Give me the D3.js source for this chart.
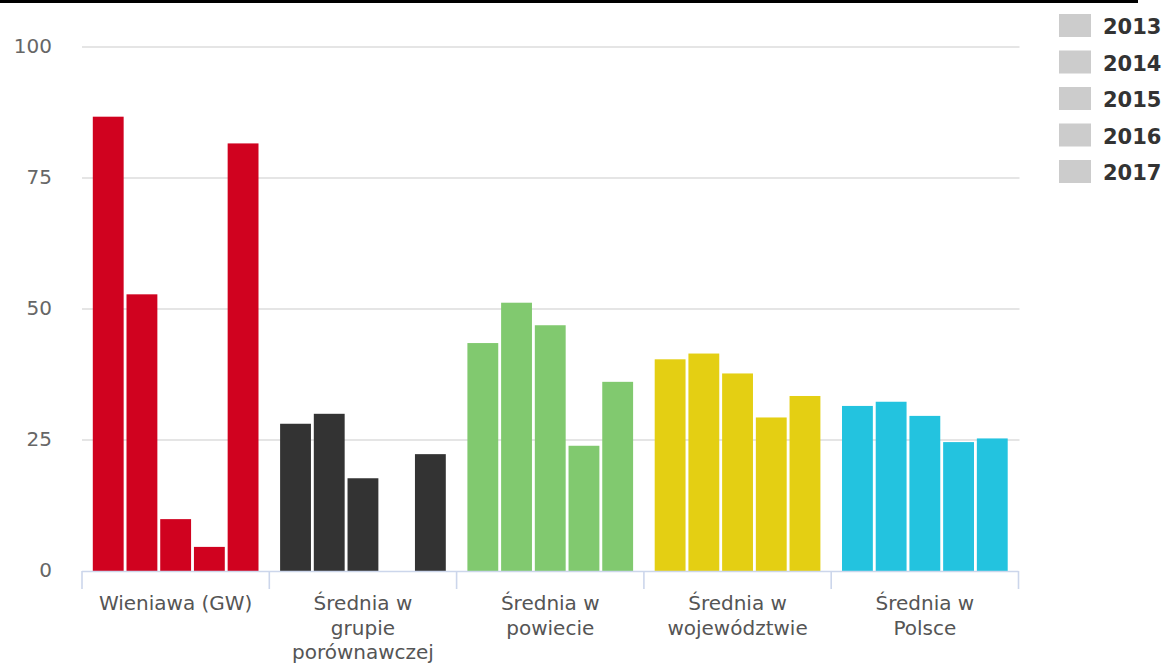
<!DOCTYPE html>
<html>
<head>
<meta charset="utf-8">
<script src="https://cdn.jsdelivr.net/npm/d3@7"></script>
<style>
  html, body { margin: 0; padding: 0; background: #fff; }
  svg { display: block; font-family: "DejaVu Sans", sans-serif; }
</style>
</head>
<body>
<svg id="chart" width="1168" height="668"></svg>
<script>
// ---- data ----
const categories = ["Wieniawa (GW)", "Średnia w grupie porównawczej", "Średnia w powiecie", "Średnia w województwie", "Średnia w Polsce"];
const categoryLabelLines = [
  ["Wieniawa (GW)"],
  ["Średnia w", "grupie", "porównawczej"],
  ["Średnia w", "powiecie"],
  ["Średnia w", "województwie"],
  ["Średnia w", "Polsce"]
];
const years = ["2013", "2014", "2015", "2016", "2017"];
const values2013 = [86.7, 28.1, 43.5, 40.4, 31.5];
const values2014 = [52.8, 30.0, 51.2, 41.5, 32.3];
const values2015 = [9.9, 17.7, 46.9, 37.7, 29.6];
const values2016 = [4.6, null, 23.9, 29.3, 24.6];
const values2017 = [81.6, 22.3, 36.1, 33.4, 25.3];
const categoryColors = ["#d0021f", "#333333", "#81c96f", "#e4cf13", "#23c3df"];
const yTicks = [0, 25, 50, 75, 100];

const seriesValues = [values2013, values2014, values2015, values2016, values2017];

// ---- layout ----
const svg = d3.select("#chart");
const plotLeft = 82, plotRight = 1018.5, plotTop = 47, plotBottom = 571;

// top black bar
svg.append("rect").attr("x", 0).attr("y", 0).attr("width", 1138).attr("height", 3).attr("fill", "#000");

const y = d3.scaleLinear().domain([0, 100]).range([plotBottom, plotTop]);
const x0 = d3.scaleBand().domain(categories).range([plotLeft, plotRight]).padding(0);
const groupPad = 10.8;
const x1 = d3.scaleBand().domain(years)
  .range([groupPad, x0.bandwidth() - groupPad])
  .paddingInner(0.085).paddingOuter(0);

// gridlines
svg.append("g").selectAll("line").data(yTicks.filter(d => d > 0)).join("line")
  .attr("x1", plotLeft).attr("x2", plotRight + 1)
  .attr("y1", d => y(d)).attr("y2", d => y(d))
  .attr("stroke", "#dcdcdc").attr("stroke-width", 1.6);

// y labels
svg.append("g").selectAll("text").data(yTicks).join("text")
  .attr("x", 52).attr("y", d => y(d) + 5.5)
  .attr("text-anchor", "end")
  .attr("font-size", 20).attr("fill", "#666")
  .text(d => d);

// bars
const barData = [];
categories.forEach((c, ci) => {
  years.forEach((yr, si) => {
    const v = seriesValues[si][ci];
    if (v != null) barData.push({ c, ci, yr, v });
  });
});
svg.append("g").selectAll("rect").data(barData).join("rect")
  .attr("x", d => x0(d.c) + x1(d.yr))
  .attr("width", x1.bandwidth())
  .attr("y", d => y(d.v))
  .attr("height", d => y(0) - y(d.v))
  .attr("fill", d => categoryColors[d.ci]);

// x axis
const xAxis = svg.append("g");
xAxis.append("line")
  .attr("x1", plotLeft).attr("x2", plotRight)
  .attr("y1", plotBottom + 0.5).attr("y2", plotBottom + 0.5)
  .attr("stroke", "#ccd6eb").attr("stroke-width", 1.6);
const tickPositions = categories.map(c => x0(c)).concat([plotRight]);
xAxis.selectAll("line.tick").data(tickPositions).join("line")
  .attr("class", "tick")
  .attr("x1", d => d).attr("x2", d => d)
  .attr("y1", plotBottom).attr("y2", plotBottom + 18)
  .attr("stroke", "#ccd6eb").attr("stroke-width", 1.6);

const labelG = xAxis.selectAll("text.cat").data(categories).join("text")
  .attr("class", "cat")
  .attr("text-anchor", "middle")
  .attr("font-size", 20).attr("fill", "#555")
  .attr("x", d => x0(d) + x0.bandwidth() / 2)
  .attr("y", 610);
labelG.each(function(d, i) {
  const t = d3.select(this);
  categoryLabelLines[i].forEach((line, li) => {
    t.append("tspan")
      .attr("x", x0(d) + x0.bandwidth() / 2)
      .attr("y", 610 + li * 24.5)
      .text(line);
  });
});

// legend
const legend = svg.append("g");
const legendY = d3.scalePoint().domain(years).range([26, 172]);
const li = legend.selectAll("g").data(years).join("g")
  .attr("transform", d => `translate(0, ${legendY(d)})`);
li.append("rect").attr("x", 1059).attr("y", -12).attr("width", 32).attr("height", 23).attr("fill", "#cccccc");
li.append("text").attr("x", 1103).attr("y", 8)
  .attr("font-size", 21).attr("font-weight", "bold").attr("fill", "#333")
  .text(d => d);
</script>
</body>
</html>
